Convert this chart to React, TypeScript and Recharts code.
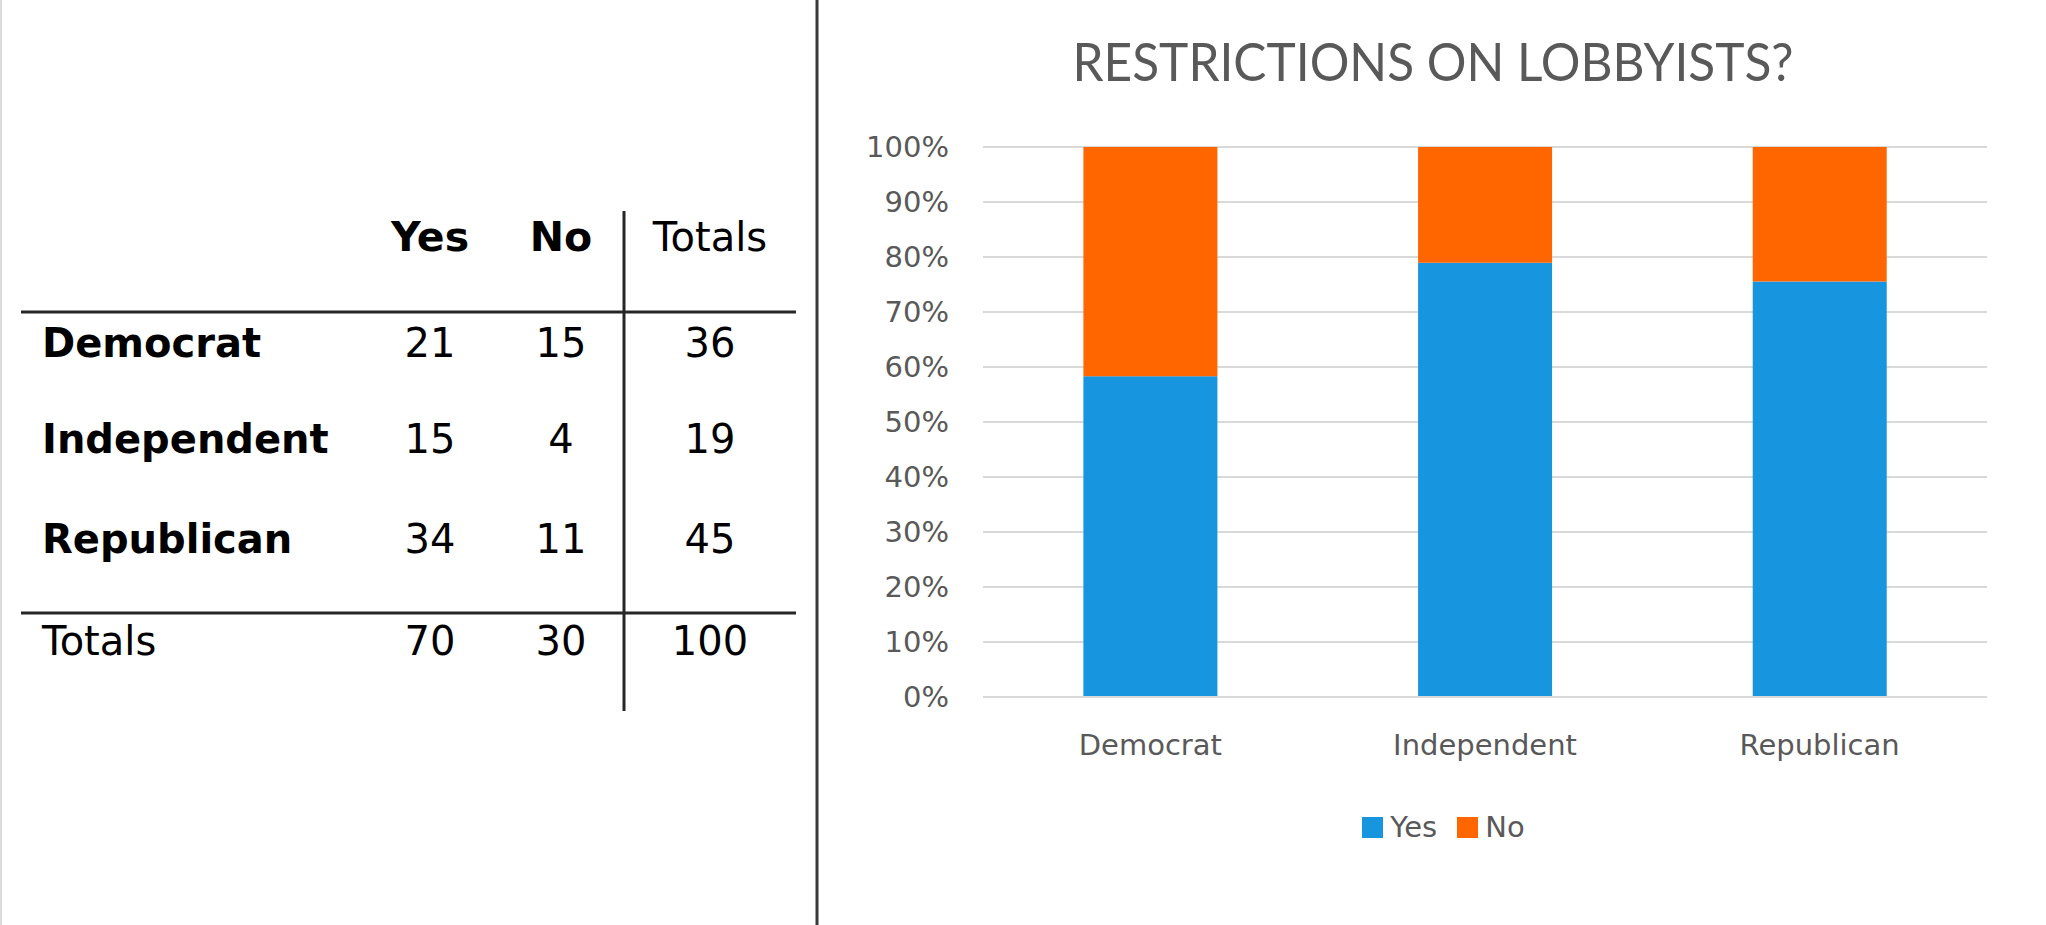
import { BarChart, Bar, XAxis, YAxis, CartesianGrid, Legend } from 'recharts'

const parties = ['Democrat', 'Independent', 'Republican']
const seriesNames = ['Yes', 'No']
const yesCounts = [21, 15, 34]
const noCounts = [15, 4, 11]
const rowTotals = [36, 19, 45]
const colTotals = [70, 30]
const grandTotal = 100
const yTicks = [0, 0.1, 0.2, 0.3, 0.4, 0.5, 0.6, 0.7, 0.8, 0.9, 1]

const YES_COLOR = '#1795df'
const NO_COLOR = '#ff6600'
const AXIS_TEXT = '#595959'
const GRID = '#d9d9d9'
const FONT = '"DejaVu Sans", Verdana, sans-serif'

const chartData = parties.map((p, i) => ({ party: p, Yes: yesCounts[i], No: noCounts[i] }))

// table geometry
const colX = [430, 561, 710]
const rowBaselines = [357, 453, 553]
const totalsBaseline = 655

function renderLegend(props: any) {
  const items = [...(props.payload || [])].sort(
    (a: any, b: any) => seriesNames.indexOf(a.value) - seriesNames.indexOf(b.value)
  )
  return (
    <div style={{ display: 'flex', justifyContent: 'center', alignItems: 'center', paddingLeft: 11 }}>
      {items.map((it: any, i: number) => (
        <div key={it.value} style={{ display: 'flex', alignItems: 'center', marginLeft: i === 0 ? 0 : 20 }}>
          <span style={{ display: 'inline-block', width: 21, height: 21, background: it.color, marginRight: 7 }} />
          <span style={{ fontFamily: FONT, fontSize: 29, color: AXIS_TEXT, lineHeight: '34px' }}>{it.value}</span>
        </div>
      ))}
    </div>
  )
}

function TablePanel() {
  return (
    <svg width={2046} height={925} style={{ position: 'absolute', left: 0, top: 0 }}>
      <rect x={0} y={0} width={2046} height={925} fill="#ffffff" />
      <rect x={0} y={0} width={2} height={925} fill="#dcdcdc" />
      {/* divider between table and chart */}
      <line x1={817} y1={0} x2={817} y2={925} stroke="#3a3a3a" strokeWidth={3} />

      {/* title */}
      <text
        x={1433}
        y={81}
        textAnchor="middle"
        textLength={721}
        lengthAdjust="spacingAndGlyphs"
        fontFamily='Lato, "Open Sans", sans-serif'
        fontSize={53}
        fill={AXIS_TEXT}
      >
        RESTRICTIONS ON LOBBYISTS?
      </text>

      {/* table rules */}
      <line x1={21} y1={312} x2={796} y2={312} stroke="#262626" strokeWidth={3} />
      <line x1={21} y1={613} x2={796} y2={613} stroke="#262626" strokeWidth={3} />
      <line x1={624} y1={211} x2={624} y2={711} stroke="#262626" strokeWidth={3} />

      <g fontFamily={FONT} fill="#000000">
        <text x={colX[0]} y={251} textAnchor="middle" fontWeight="bold" fontSize={41}>Yes</text>
        <text x={colX[1]} y={251} textAnchor="middle" fontWeight="bold" fontSize={41}>No</text>
        <text x={colX[2]} y={251} textAnchor="middle" fontSize={40}>Totals</text>

        {parties.map((p, i) => (
          <g key={p}>
            <text x={42} y={rowBaselines[i]} fontWeight="bold" fontSize={40}>{p}</text>
            <text x={colX[0]} y={rowBaselines[i]} textAnchor="middle" fontSize={40}>{yesCounts[i]}</text>
            <text x={colX[1]} y={rowBaselines[i]} textAnchor="middle" fontSize={40}>{noCounts[i]}</text>
            <text x={colX[2]} y={rowBaselines[i]} textAnchor="middle" fontSize={40}>{rowTotals[i]}</text>
          </g>
        ))}

        <text x={42} y={totalsBaseline} fontSize={40}>Totals</text>
        <text x={colX[0]} y={totalsBaseline} textAnchor="middle" fontSize={40}>{colTotals[0]}</text>
        <text x={colX[1]} y={totalsBaseline} textAnchor="middle" fontSize={40}>{colTotals[1]}</text>
        <text x={colX[2]} y={totalsBaseline} textAnchor="middle" fontSize={40}>{grandTotal}</text>
      </g>
    </svg>
  )
}

export default function App() {
  return (
    <div style={{ position: 'absolute', left: 0, top: 0, width: 2046, height: 925, background: '#fff', overflow: 'hidden' }}>
      <TablePanel />
      <div style={{ position: 'absolute', left: 830, top: 0 }}>
        <BarChart
          width={1216}
          height={925}
          data={chartData}
          stackOffset="expand"
          barCategoryGap="30%"
          margin={{ top: 147, right: 59, bottom: 198, left: 0 }}
        >
          <CartesianGrid vertical={false} stroke={GRID} strokeWidth={2} />
          <XAxis
            dataKey="party"
            height={30}
            axisLine={{ stroke: GRID, strokeWidth: 2 }}
            tickLine={false}
            tickSize={0}
            tickMargin={37}
            tick={{ fill: AXIS_TEXT, fontSize: 29, fontFamily: FONT }}
          />
          <YAxis
            width={153}
            domain={[0, 1]}
            ticks={yTicks}
            axisLine={false}
            tickLine={false}
            tickSize={0}
            tickMargin={34}
            tickFormatter={(v: number) => `${Math.round(v * 100)}%`}
            tick={{ fill: AXIS_TEXT, fontSize: 29, fontFamily: FONT }}
          />
          <Legend
            verticalAlign="middle"
            align="center"
            content={renderLegend}
            wrapperStyle={{ top: 810, left: 0, width: 1216 }}
          />
          <Bar dataKey="Yes" stackId="a" fill={YES_COLOR} isAnimationActive={false} />
          <Bar dataKey="No" stackId="a" fill={NO_COLOR} isAnimationActive={false} />
        </BarChart>
      </div>
    </div>
  )
}
